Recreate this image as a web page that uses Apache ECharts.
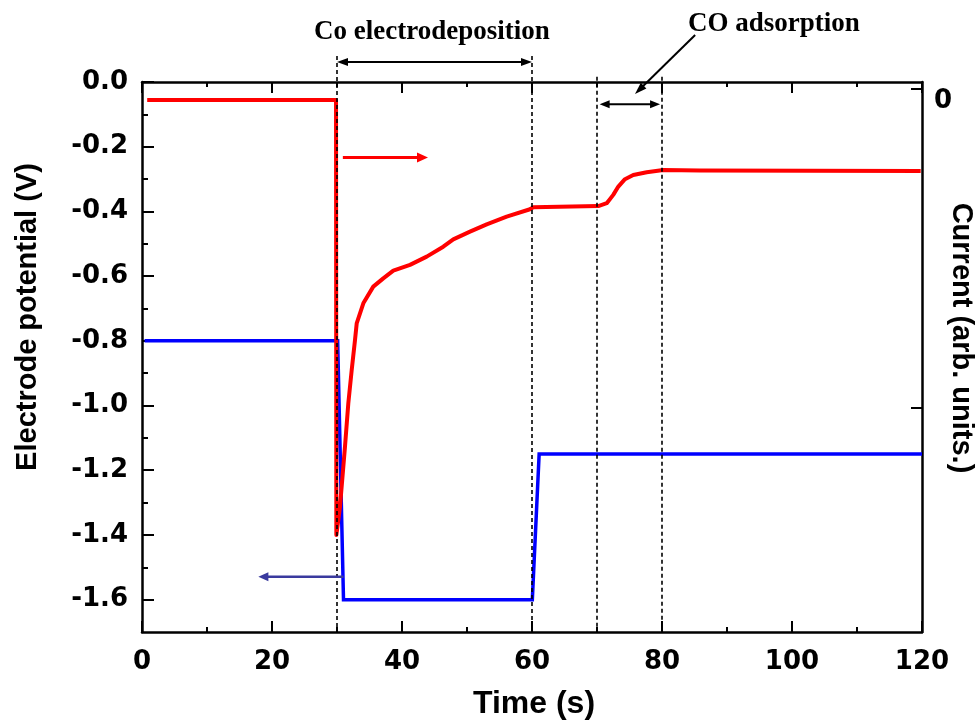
<!DOCTYPE html>
<html>
<head>
<meta charset="utf-8">
<script src="https://cdn.jsdelivr.net/npm/echarts@6/dist/echarts.min.js"></script>
<style>
  html, body { margin: 0; padding: 0; background: #fff; }
  #chart { width: 978px; height: 722px; }
</style>
</head>
<body>
<div id="chart"></div>
<script>
// Applied electrode potential (left axis, V)
const timePotential = [0.4, 30.1, 31.0, 60.05, 61.1, 120];
const potential = [-0.8, -0.8, -1.6, -1.6, -1.15, -1.15];

// Measured current (right axis, arbitrary units)
const timeCurrent = [0.8, 29.85, 29.9, 30.1, 30.46, 30.8, 31.23, 31.74, 32.26, 32.77, 33.03, 34.05,
  35.58, 37.12, 38.66, 41.23, 43.8, 46.35, 47.89, 50.46, 53.03, 56.1, 59.69, 60.2, 70.2, 71.5,
  72.5, 73.28, 74.3, 75.58, 77.65, 80.2, 85.8, 119.8];
const current = [-0.36, -0.36, -13.97, -13.97, -13.08, -12.25, -11.2, -9.85, -8.81, -7.87, -7.35, -6.72,
  -6.2, -5.94, -5.7, -5.52, -5.26, -4.95, -4.72, -4.48, -4.25, -4.01, -3.78, -3.72, -3.68, -3.59,
  -3.33, -3.07, -2.84, -2.71, -2.62, -2.55, -2.57, -2.58];

// Axis ticks
const xTicks = [0, 20, 40, 60, 80, 100, 120];
const potentialTicks = [-1.6, -1.4, -1.2, -1.0, -0.8, -0.6, -0.4, -0.2, 0.0];
const potentialMinorTicks = [-1.5, -1.3, -1.1, -0.9, -0.7, -0.5, -0.3, -0.1];
const currentTicks = [0, -10];
const currentLabels = [0];

// Step boundaries (s)
const stepMarks = [30, 60, 70, 80];

const pair = (xs, ys) => xs.map((x, i) => [x, ys[i]]);

const chart = echarts.init(document.getElementById('chart'), null, { renderer: 'canvas' });

const labelFont = { fontFamily: 'DejaVu Sans', fontWeight: 'bold', fontSize: 26, color: '#000' };
const black = { color: '#000', width: 2.5 };

chart.setOption({
  backgroundColor: '#fff',
  animation: false,
  grid: { left: 142, right: 56, top: 82, bottom: 90, containLabel: false },
  xAxis: [
    {
      type: 'value', position: 'bottom', min: 0, max: 120, interval: 20,
      axisLine: { show: true, onZero: false, lineStyle: black },
      axisTick: { show: true, inside: true, length: 11, lineStyle: { color: '#000', width: 2 } },
      minorTick: { show: true, splitNumber: 2, length: 5, lineStyle: { color: '#000', width: 2 } },
      splitLine: { show: false },
      axisLabel: Object.assign({ margin: 17, formatter: v => xTicks.includes(v) ? String(v) : '' }, labelFont)
    },
    {
      type: 'value', position: 'top', min: 0, max: 120, interval: 20,
      axisLine: { show: true, onZero: false, lineStyle: black },
      axisTick: { show: true, inside: true, length: 11, lineStyle: { color: '#000', width: 2 } },
      minorTick: { show: true, splitNumber: 2, length: 5, lineStyle: { color: '#000', width: 2 } },
      splitLine: { show: false },
      axisLabel: { show: false }
    }
  ],
  yAxis: [
    {
      type: 'value', position: 'left', min: -1.7, max: 0,
      axisLine: { show: true, onZero: false, lineStyle: black },
      axisTick: { show: true, inside: true, length: 12, customValues: potentialTicks, lineStyle: { color: '#000', width: 2 } },
      splitLine: { show: false },
      axisLabel: Object.assign({ margin: 14, customValues: potentialTicks, formatter: v => v.toFixed(1) }, labelFont)
    },
    {
      type: 'value', position: 'right', min: -17, max: 0.2,
      axisLine: { show: true, onZero: false, lineStyle: black },
      axisTick: { show: true, inside: true, length: 11, customValues: currentTicks, lineStyle: { color: '#000', width: 2 } },
      splitLine: { show: false },
      axisLabel: Object.assign({ margin: 12, verticalAlign: 'top', customValues: currentLabels, formatter: v => String(Math.round(v)) }, labelFont)
    },
    {
      type: 'value', position: 'left', min: -1.7, max: 0,
      axisLine: { show: false },
      axisTick: { show: true, inside: true, length: 6, customValues: potentialMinorTicks, lineStyle: { color: '#000', width: 2 } },
      splitLine: { show: false },
      axisLabel: { show: false }
    }
  ],
  series: [
    {
      name: 'Potential', type: 'line', xAxisIndex: 0, yAxisIndex: 0,
      data: pair(timePotential, potential), showSymbol: false, symbol: 'none',
      lineStyle: { color: '#0000ff', width: 3.5, join: 'miter' }, z: 3
    },
    {
      name: 'Current', type: 'line', xAxisIndex: 0, yAxisIndex: 1,
      data: pair(timeCurrent, current), showSymbol: false, symbol: 'none',
      lineStyle: { color: '#ff0000', width: 4, join: 'round' }, z: 4
    }
  ]
});

// Annotation layer: positions are given in data space and converted with the axes.
const px = (t, v) => chart.convertToPixel({ xAxisIndex: 0, yAxisIndex: 0 }, [t, v]);

function arrowHead(tip, from, color, len, half) {
  const dx = tip[0] - from[0], dy = tip[1] - from[1];
  const d = Math.hypot(dx, dy), ux = dx / d, uy = dy / d;
  const bx = tip[0] - ux * len, by = tip[1] - uy * len;
  return {
    type: 'polygon', z: 100, silent: true,
    shape: { points: [tip, [bx - uy * half, by + ux * half], [bx + uy * half, by - ux * half]] },
    style: { fill: color }
  };
}

function arrow(a, b, color, width, len, half, both) {
  const els = [];
  const dx = b[0] - a[0], dy = b[1] - a[1];
  const d = Math.hypot(dx, dy), ux = dx / d, uy = dy / d;
  const start = both ? [a[0] + ux * len * 0.8, a[1] + uy * len * 0.8] : a;
  const end = [b[0] - ux * len * 0.8, b[1] - uy * len * 0.8];
  els.push({
    type: 'line', z: 100, silent: true,
    shape: { x1: start[0], y1: start[1], x2: end[0], y2: end[1] },
    style: { stroke: color, lineWidth: width }
  });
  els.push(arrowHead(b, a, color, len, half));
  if (both) els.push(arrowHead(a, b, color, len, half));
  return els;
}

const elements = [];

// Dashed step boundaries
stepMarks.forEach((t, i) => {
  const top = px(t, i < 2 ? 0.08 : 0.016);
  const bottom = px(t, -1.7);
  elements.push({
    type: 'line', z: 100, silent: true,
    shape: { x1: top[0], y1: top[1], x2: bottom[0], y2: bottom[1] },
    style: { stroke: '#000', lineWidth: 1.6, lineDash: [4, 3] }
  });
});

// Co electrodeposition span
elements.push(...arrow(px(30, 0.062), px(60, 0.062), '#000', 2, 11, 4, true));
// CO adsorption span and pointer
elements.push(...arrow(px(70.4, -0.069), px(79.7, -0.069), '#000', 2, 10, 4, true));
elements.push(...arrow(px(85.1, 0.145), px(75.85, -0.037), '#000', 2, 12, 4, false));
// Axis pointers for each trace
elements.push(...arrow(px(30.9, -0.233), px(44.0, -0.233), '#ff0000', 3, 11, 5, false));
elements.push(...arrow(px(31.0, -1.529), px(17.9, -1.529), '#3a3a9e', 2.5, 10, 4.5, false));

const noteFont = 'bold 27px "Liberation Serif", "Times New Roman", serif';
const p1 = px(44.6, 0.154);
elements.push({ type: 'text', z: 100, silent: true, x: p1[0], y: p1[1],
  style: { text: 'Co electrodeposition', font: noteFont, fill: '#000', align: 'center', verticalAlign: 'middle' } });
const p2 = px(97.2, 0.178);
elements.push({ type: 'text', z: 100, silent: true, x: p2[0], y: p2[1],
  style: { text: 'CO adsorption', font: noteFont, fill: '#000', align: 'center', verticalAlign: 'middle' } });

// Axis titles
const titleFont = 'bold 29px "Liberation Sans", Arial, sans-serif';
elements.push({ type: 'text', z: 100, silent: true, x: 534, y: 704,
  style: { text: 'Time (s)', font: 'bold 32px "Liberation Sans", Arial, sans-serif', fill: '#000', align: 'center', verticalAlign: 'middle' } });
elements.push({ type: 'text', z: 100, silent: true, x: 28, y: 317, rotation: Math.PI / 2,
  style: { text: 'Electrode potential (V)', font: titleFont, fill: '#000', align: 'center', verticalAlign: 'middle' } });
elements.push({ type: 'text', z: 100, silent: true, x: 961, y: 338, rotation: -Math.PI / 2,
  style: { text: 'Current (arb. units.)', font: titleFont, fill: '#000', align: 'center', verticalAlign: 'middle' } });

chart.setOption({ graphic: { elements } });
</script>
</body>
</html>
